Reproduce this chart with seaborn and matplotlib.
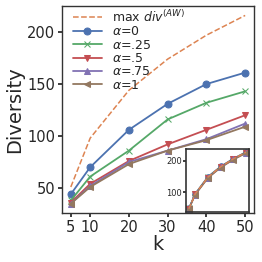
import matplotlib
matplotlib.use("Agg")
import matplotlib.pyplot as plt
import seaborn as sns

k = [5, 10, 20, 30, 40, 50]
max_div = [51, 98, 144, 174, 197, 216]
alpha_0 = [44, 70, 106, 131, 150, 161]
alpha_25 = [38, 61, 86, 116, 132, 143]
alpha_5 = [36, 54, 76, 92, 106, 120]
alpha_75 = [35, 52, 75, 86, 97, 112]
alpha_1 = [35, 51, 73, 86, 96, 109]

# inset: all series nearly on top of each other
inset_max = [48, 95, 148, 181, 206, 227]
inset_vals = {
    r"$\alpha$=0": [50, 96, 150, 182, 207, 228],
    r"$\alpha$=.25": [49, 95, 148, 181, 206, 227],
    r"$\alpha$=.5": [48, 94, 147, 180, 205, 226],
    r"$\alpha$=.75": [47, 93, 146, 179, 204, 225],
    r"$\alpha$=1": [46, 92, 145, 178, 203, 224],
}

labels = [r"$\alpha$=0", r"$\alpha$=.25", r"$\alpha$=.5", r"$\alpha$=.75", r"$\alpha$=1"]
series = [alpha_0, alpha_25, alpha_5, alpha_75, alpha_1]
markers = ["o", "x", "v", "^", "<"]

sns.set_theme(style="ticks", palette="deep")
pal = sns.color_palette("deep")
colors = [pal[0], pal[2], pal[3], pal[4], pal[5]]

fig = plt.figure(figsize=(2.62, 2.62), dpi=100)
ax = fig.add_axes([0.237, 0.187, 0.732, 0.79])

sns.lineplot(x=k, y=max_div, ax=ax, color=pal[1], linestyle="--", linewidth=1.1,
             label=r"max $div^{(AW)}$")
for lab, vals, m, c in zip(labels, series, markers, colors):
    sns.lineplot(x=k, y=vals, ax=ax, color=c, marker=m, markersize=5,
                 markeredgecolor=c, linewidth=1.3, label=lab)

ax.set_xticks(k)
ax.set_xlabel("k", fontsize=14, labelpad=0)
ax.set_ylabel("Diversity", fontsize=14, labelpad=2)
ax.tick_params(labelsize=10.5, length=3, pad=2)
for s in ax.spines.values():
    s.set_color("#333333")
    s.set_linewidth(1.0)
ax.legend(loc="upper left", frameon=False, fontsize=9, handlelength=2.3,
          borderaxespad=0.0, labelspacing=0.03, handletextpad=0.8,
          bbox_to_anchor=(0.03, 1.01))

ins = ax.inset_axes([0.646, 0.005, 0.328, 0.304])
for lab, m, c in zip(labels, markers, colors):
    sns.lineplot(x=k, y=inset_vals[lab], ax=ins, color=c, marker=m, markersize=4,
                 markeredgecolor=c, linewidth=1.0, legend=False)
sns.lineplot(x=k, y=inset_max, ax=ins, color=pal[1],
             linestyle="--", linewidth=1.0, legend=False)
ins.set_xticks([])
ins.set_yticks([100, 200])
ins.set_ylim(38, 237)
ins.tick_params(labelsize=6, length=2, pad=1)
for s in ins.spines.values():
    s.set_color("#333333")
    s.set_linewidth(1.2)

fig.savefig("out.png", dpi=100)
